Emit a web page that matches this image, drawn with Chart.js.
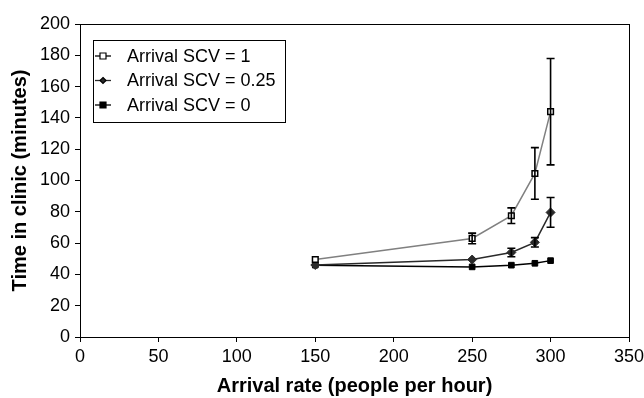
<!DOCTYPE html>
<html>
<head>
<meta charset="utf-8">
<script src="https://cdn.jsdelivr.net/npm/chart.js@4/dist/chart.umd.min.js"></script>
<style>
  html, body { margin: 0; padding: 0; background: #fff; }
  #wrap { width: 644px; height: 398px; }
</style>
</head>
<body>
<div id="wrap"><canvas id="grafico"></canvas></div>
<script>
// valores
const arrivalRates = [150, 250, 275, 290, 300];
const seriesLabels = ['Arrival SCV = 1', 'Arrival SCV = 0.25', 'Arrival SCV = 0'];
const scv1 = [49.5, 63, 77.5, 104.5, 144];
const scv1Err = [0, 3.4, 5, 16.5, 34];
const scv025 = [46, 49.5, 54, 60.5, 79.6];
const scv025Err = [0, 0, 2.7, 3, 9.5];
const scv0 = [45.9, 44.8, 45.9, 47.1, 48.8];
const scv0Err = [0, 0, 0, 0, 0];
const xTicks = [0, 50, 100, 150, 200, 250, 300, 350];
const yTicks = [0, 20, 40, 60, 80, 100, 120, 140, 160, 180, 200];

const FONT = 'Liberation Sans, Arial, sans-serif';

function pontos(ys) {
  return arrivalRates.map((x, i) => ({ x: x, y: ys[i] }));
}

// desenha barras de erro usando as escalas do Chart.js
const errorBars = {
  id: 'errorBars',
  afterDatasetsDraw(chart) {
    const ctx = chart.ctx;
    const xs = chart.scales.x, ys = chart.scales.y;
    ctx.save();
    ctx.strokeStyle = '#000';
    ctx.lineWidth = 1.6;
    chart.data.datasets.forEach(ds => {
      (ds.errors || []).forEach((e, i) => {
        if (!e) return;
        const p = ds.data[i];
        const px = xs.getPixelForValue(p.x);
        const top = ys.getPixelForValue(p.y + e);
        const bot = ys.getPixelForValue(p.y - e);
        ctx.beginPath();
        ctx.moveTo(px, top); ctx.lineTo(px, bot);
        ctx.moveTo(px - 4, top); ctx.lineTo(px + 4, top);
        ctx.moveTo(px - 4, bot); ctx.lineTo(px + 4, bot);
        ctx.stroke();
      });
    });
    ctx.restore();
  }
};

// moldura do gráfico e legenda com borda
const frameLegend = {
  id: 'frameLegend',
  afterDraw(chart) {
    const ctx = chart.ctx;
    const a = chart.chartArea;
    ctx.save();
    ctx.strokeStyle = '#000';
    ctx.lineWidth = 1;
    ctx.strokeRect(Math.round(a.left) + 0.5, Math.round(a.top) + 0.5, Math.round(a.right - a.left), Math.round(a.bottom - a.top));

    // legenda
    const lx = 93, ly = 40, lw = 192, lh = 82;
    ctx.fillStyle = '#fff';
    ctx.fillRect(lx, ly, lw, lh);
    ctx.strokeRect(lx + 0.5, ly + 0.5, lw, lh);
    ctx.font = '18px ' + FONT;
    ctx.textBaseline = 'middle';
    chart.data.datasets.forEach((ds, i) => {
      const cy = ly + 16 + i * 24.5;
      const mx = lx + 10;
      ctx.strokeStyle = ds.borderColor === '#808080' ? '#000' : ds.borderColor;
      ctx.lineWidth = 1.3;
      ctx.beginPath();
      ctx.moveTo(lx + 2, cy); ctx.lineTo(lx + 18, cy);
      ctx.stroke();
      ctx.fillStyle = ds.pointBackgroundColor;
      ctx.strokeStyle = '#000';
      ctx.lineWidth = 1.2;
      ctx.beginPath();
      const r = ds.legendRadius;
      if (ds.pointStyle === 'rectRot') {
        ctx.moveTo(mx, cy - r); ctx.lineTo(mx + r, cy);
        ctx.lineTo(mx, cy + r); ctx.lineTo(mx - r, cy);
      } else {
        ctx.rect(mx - r, cy - r, 2 * r, 2 * r);
      }
      ctx.closePath();
      ctx.fill(); ctx.stroke();
      ctx.fillStyle = '#000';
      ctx.fillText(ds.label, lx + 34, cy + 1);
    });
    ctx.restore();
  }
};

new Chart(document.getElementById('grafico').getContext('2d'), {
  type: 'scatter',
  data: {
    datasets: [
      {
        label: seriesLabels[0],
        data: pontos(scv1),
        errors: scv1Err,
        showLine: true,
        borderColor: '#808080',
        borderWidth: 1.5,
        pointStyle: 'rect',
        pointRadius: 4,
        legendRadius: 3,
        pointBackgroundColor: '#fff',
        pointBorderColor: '#000',
        pointBorderWidth: 1.5,
        order: 1
      },
      {
        label: seriesLabels[1],
        data: pontos(scv025),
        errors: scv025Err,
        showLine: true,
        borderColor: '#2a2a2a',
        borderWidth: 1.5,
        pointStyle: 'rectRot',
        pointRadius: 4.5,
        legendRadius: 3,
        pointBackgroundColor: '#2a2a2a',
        pointBorderColor: '#2a2a2a',
        pointBorderWidth: 1,
        order: 2
      },
      {
        label: seriesLabels[2],
        data: pontos(scv0),
        errors: scv0Err,
        showLine: true,
        borderColor: '#000',
        borderWidth: 1.5,
        pointStyle: 'rect',
        pointRadius: 4,
        legendRadius: 3,
        pointBackgroundColor: '#000',
        pointBorderColor: '#000',
        pointBorderWidth: 1,
        order: 3
      }
    ]
  },
  options: {
    responsive: true,
    maintainAspectRatio: false,
    animation: false,
    layout: { padding: { top: 24, right: 15, left: 0, bottom: 0 } },
    plugins: {
      legend: { display: false },
      tooltip: { enabled: false }
    },
    scales: {
      x: {
        type: 'linear',
        min: 0, max: 350,
        afterBuildTicks: s => { s.ticks = xTicks.map(v => ({ value: v })); },
        afterFit: s => { s.height = 61; s.paddingLeft = 0; s.paddingRight = 0; },
        grid: { display: true, drawOnChartArea: false, drawTicks: true, tickLength: 5, color: '#000' },
        border: { display: true, color: '#000', width: 1 },
        ticks: { color: '#000', font: { family: FONT, size: 18 }, padding: 4, maxRotation: 0 },
        title: {
          display: true, text: 'Arrival rate (people per hour)', color: '#000',
          font: { family: FONT, size: 20, weight: 'bold' }, padding: { top: 0, bottom: 0 }
        }
      },
      y: {
        type: 'linear',
        min: 0, max: 200,
        afterBuildTicks: s => { s.ticks = yTicks.map(v => ({ value: v })); },
        afterFit: s => { s.width = 80; s.paddingTop = 0; s.paddingBottom = 0; },
        grid: { display: true, drawOnChartArea: false, drawTicks: true, tickLength: 5, color: '#000' },
        border: { display: true, color: '#000', width: 1 },
        ticks: { color: '#000', font: { family: FONT, size: 18 }, padding: 5 },
        title: {
          display: true, text: 'Time in clinic (minutes)', color: '#000',
          font: { family: FONT, size: 20, weight: 'bold' }, padding: { top: 8, bottom: 0 }
        }
      }
    }
  },
  plugins: [errorBars, frameLegend]
});
</script>
</body>
</html>
